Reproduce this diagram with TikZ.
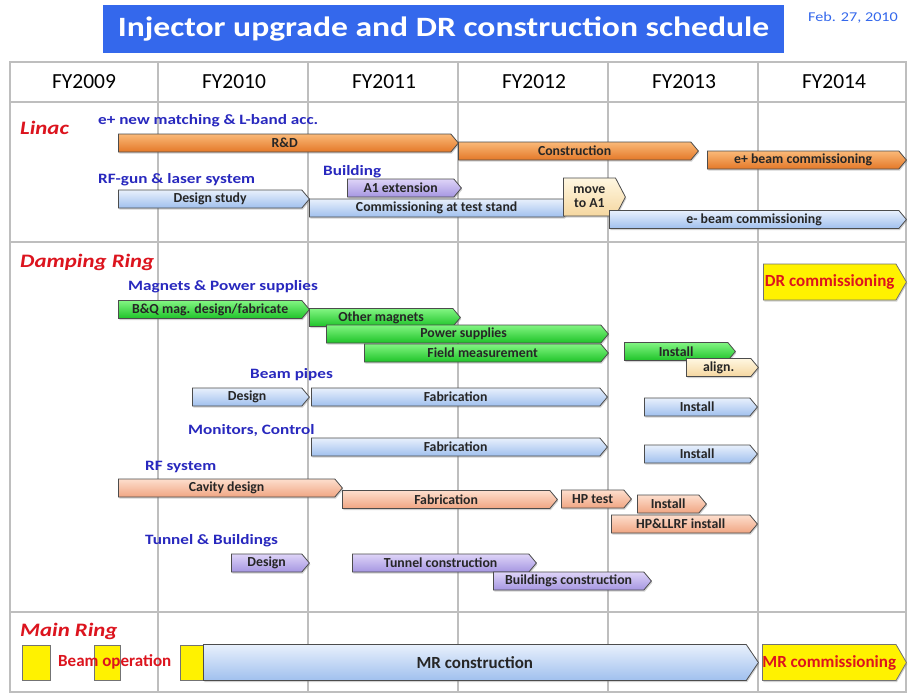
\documentclass[tikz,border=0pt]{standalone}
\usepackage{fontspec}
\setmainfont{Carlito}
\newfontfamily\widefont[FakeStretch=1.2]{Carlito}
\usepackage{tikz}
\usetikzlibrary{shapes.symbols, shadows, positioning}
\usepackage{xcolor}
\definecolor{titleblue}{RGB}{52,104,236}
\definecolor{gridgray}{RGB}{190,190,190}
\definecolor{grouptext}{RGB}{40,40,190}
\definecolor{sectred}{RGB}{220,20,30}
\definecolor{orangetop}{RGB}{250,185,120}
\definecolor{orangebot}{RGB}{228,120,40}
\definecolor{bluetop}{RGB}{232,240,252}
\definecolor{bluebot}{RGB}{160,192,238}
\definecolor{purpletop}{RGB}{222,212,248}
\definecolor{purplebot}{RGB}{165,150,225}
\definecolor{greentop}{RGB}{130,245,130}
\definecolor{greenbot}{RGB}{30,195,40}
\definecolor{salmontop}{RGB}{253,222,205}
\definecolor{salmonbot}{RGB}{240,165,130}
\definecolor{beigetop}{RGB}{255,247,225}
\definecolor{beigebot}{RGB}{245,215,160}
\tikzset{%
	every bar/.style={
		signal,
		signal to=east,
		signal pointer angle=100,
		draw=black!70,
		thick,
		inner sep=0pt,
		minimum height=18pt,
		anchor=west,
		text=black!85,
		drop shadow={shadow xshift=1pt, shadow yshift=-1.5pt, opacity=0.35},
		font=\bfseries\fontsize{13.8}{13.8}\selectfont
	},
	orange bar/.style={every bar, top color=orangetop, bottom color=orangebot},
	blue bar/.style={every bar, top color=bluetop, bottom color=bluebot},
	purple bar/.style={every bar, top color=purpletop, bottom color=purplebot},
	green bar/.style={every bar, top color=greentop, bottom color=greenbot},
	salmon bar/.style={every bar, top color=salmontop, bottom color=salmonbot},
	beige bar/.style={every bar, top color=beigetop, bottom color=beigebot},
	yellow bar/.style={every bar, fill=yellow, draw=black!55, minimum height=36pt,
		signal pointer angle=120, text=sectred, font=\bfseries\fontsize{17}{17}\selectfont},
	group label/.style={anchor=west, inner sep=0pt, text=grouptext,
		font=\widefont\bfseries\fontsize{14.3}{14.3}\selectfont},
	section label/.style={anchor=west, inner sep=0pt, text=sectred,
		font=\widefont\bfseries\itshape\fontsize{19}{19}\selectfont},
	year/.style={inner sep=0pt, font=\fontsize{21.5}{21.5}\selectfont},
	beam box/.style={draw=black!55, thick, fill=yellow},
}
\begin{document}
\begin{tikzpicture}[x=1pt, y=-1pt]
	\useasboundingbox[fill=white] (0,0) rectangle (908,694);
	
	\node[fill=titleblue, text=white, minimum width=681pt, minimum height=48pt, inner sep=0pt,
		font=\widefont\bfseries\fontsize{28}{28}\selectfont] (title) at (443.5,29) {Injector upgrade and DR construction schedule};
	\node[text=titleblue, anchor=west, inner sep=0pt, font=\widefont\fontsize{13.5}{13.5}\selectfont] (date) at (808,18) {Feb. 27, 2010};
	
	\draw[gridgray, line width=2.5pt] (10,62) rectangle (906,692);
	\foreach \x in {158,308,458,608,758}
		\draw[gridgray, line width=2.5pt] (\x,62) -- (\x,692);
	\foreach \y in {102,242,612}
		\draw[gridgray, line width=2.5pt] (10,\y) -- (906,\y);
	\foreach \yr [count=\i from 0] in {2009,2010,2011,2012,2013,2014}
		\node[year] (fy\yr) at (84+150*\i,82) {FY\yr};
	
	\node[section label] (linac) at (20,128) {Linac};
	\node[group label] (eplus) at (98,121) {e+ new matching \& L-band acc.};
	\node[orange bar, minimum width=340pt] (rnd) at (118,143) {R\&D};
	\node[orange bar, minimum width=240pt] (constr) at (458,151) {Construction};
	\node[orange bar, minimum width=199pt] (epcomm) at (707,160) {e+ beam commissioning};
	\node[group label] (rfgun) at (98,180) {RF-gun \& laser system};
	\node[group label] (building) at (323,172) {Building};
	\node[purple bar, minimum width=114pt] (aext) at (347,188) {A1 extension};
	\node[blue bar, minimum width=191pt] (dstudy) at (118,199) {Design study};
	\node[blue bar, minimum width=262pt] (teststand) at (309,208) {Commissioning at test stand};
	\node[beige bar, minimum width=62pt, minimum height=38pt, signal pointer angle=125,
		align=center] (move) at (563,197) {move\\to A1};
	\node[blue bar, minimum width=297pt] (emcomm) at (609,219.5) {e- beam commissioning};
	
	\node[section label] (dring) at (20,262) {Damping Ring};
	\node[group label] (magnets) at (128,287) {Magnets \& Power supplies};
	\node[yellow bar, minimum width=143pt] (drcomm) at (763,282) {DR commissioning};
	\node[green bar, minimum width=191pt] (bq) at (118,309.5) {B\&Q mag. design/fabricate};
	\node[green bar, minimum width=151pt] (othermag) at (309,317.5) {Other magnets};
	\node[green bar, minimum width=282pt] (powsup) at (326,334) {Power supplies};
	\node[green bar, minimum width=244pt] (fieldm) at (364,353) {Field measurement};
	\node[green bar, minimum width=111pt] (maginst) at (624,351.5) {Install};
	\node[beige bar, minimum width=72pt] (align) at (686,367.5) {align.};
	
	\node[group label] (pipes) at (250,375) {Beam pipes};
	\node[blue bar, minimum width=117pt] (pipedes) at (192,397) {Design};
	\node[blue bar, minimum width=296pt] (pipefab) at (311,397) {Fabrication};
	\node[blue bar, minimum width=113pt] (pipeinst) at (644,407) {Install};
	
	\node[group label] (monitors) at (188,430) {Monitors, Control};
	\node[blue bar, minimum width=296pt] (monfab) at (311,447) {Fabrication};
	\node[blue bar, minimum width=113pt] (moninst) at (644,454) {Install};
	
	\node[group label] (rfsys) at (145,467) {RF system};
	\node[salmon bar, minimum width=224pt] (cavdes) at (118,488) {Cavity design};
	\node[salmon bar, minimum width=215pt] (rffab) at (342,499.5) {Fabrication};
	\node[salmon bar, minimum width=70pt] (hptest) at (561,499) {HP test};
	\node[salmon bar, minimum width=69pt] (rfinst) at (637,504) {Install};
	\node[salmon bar, minimum width=146pt] (llrf) at (611,524) {HP\&LLRF install};
	
	\node[group label] (tunnels) at (145,541) {Tunnel \& Buildings};
	\node[purple bar, minimum width=78pt] (tbdes) at (231,563) {Design};
	\node[purple bar, minimum width=184pt] (tunnel) at (352,563) {Tunnel construction};
	\node[purple bar, minimum width=158pt] (bldg) at (493,581) {Buildings construction};
	
	\node[section label] (mring) at (20,631) {Main Ring};
	\draw[beam box] (22,645) rectangle (50,680);
	\draw[beam box] (94,645) rectangle (120,680);
	\draw[beam box] (180,645) rectangle (203,680);
	\node[anchor=west, inner sep=0pt, text=sectred, font=\bfseries\fontsize{17}{17}\selectfont] (beamop) at (58,662) {Beam operation};
	\node[blue bar, minimum width=555pt, minimum height=36pt, signal pointer angle=112,
		font=\bfseries\fontsize{17}{17}\selectfont] (mrcon) at (203,662.5) {MR construction};
	\node[yellow bar, minimum width=144pt] (mrcomm) at (762,662.5) {MR commissioning};
\end{tikzpicture}
\end{document}
